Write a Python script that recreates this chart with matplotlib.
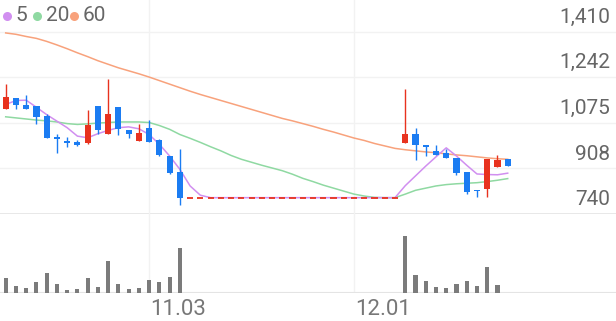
import matplotlib
matplotlib.use("Agg")
import numpy as np
import matplotlib.pyplot as plt

plt.rcParams['font.family'] = ['Roboto', 'DejaVu Sans']

# daily candles (index 18..38 = trading halt, flat price)
opens = [1127, 1165, 1139, 1136, 1099, 1024, 1008, 1006, 1002, 1137,
         1032, 1134, 1048, 1008, 1057, 1010, 953, 894,
         800, 800, 800, 800, 800, 800, 800, 800, 800, 800, 800,
         800, 800, 800, 800, 800, 800, 800, 800, 800, 800,
         999, 1035, 992, 971, 965, 947, 894, 827, 831, 913, 941]
highs = [1219, 1165, 1178, 1136, 1109, 1032, 1024, 1012, 1121, 1137,
         1236, 1134, 1048, 1069, 1087, 1014, 953, 980,
         800, 800, 800, 800, 800, 800, 800, 800, 800, 800, 800,
         800, 800, 800, 800, 800, 800, 800, 800, 800, 800,
         1199, 1057, 992, 992, 977, 947, 894, 827, 943, 955, 941]
lows = [1127, 1127, 1126, 1071, 1018, 965, 986, 989, 998, 1035,
        1032, 1029, 1020, 1008, 1004, 952, 886, 773,
        800, 800, 800, 800, 800, 800, 800, 800, 800, 800, 800,
        800, 800, 800, 800, 800, 800, 800, 800, 800, 800,
        999, 937, 953, 957, 944, 883, 813, 803, 803, 913, 916]
closes = [1170, 1139, 1126, 1096, 1018, 1014, 1002, 993, 1066, 1047,
          1108, 1051, 1032, 1036, 1004, 957, 890, 800,
          800, 800, 800, 800, 800, 800, 800, 800, 800, 800, 800,
          800, 800, 800, 800, 800, 800, 800, 800, 800, 800,
          1035, 992, 986, 957, 947, 889, 819, 823, 943, 937, 916]
volumes = [150, 70, 50, 110, 200, 93, 30, 43, 156, 66,
           323, 93, 43, 50, 136, 110, 163, 450,
           0, 0, 0, 0, 0, 0, 0, 0, 0, 0, 0,
           0, 0, 0, 0, 0, 0, 0, 0, 0, 0,
           576, 183, 126, 63, 53, 93, 126, 76, 263, 80, 0]

ma5 = [1142, 1157, 1158, 1132, 1105, 1081, 1057, 1026, 1020, 1035,
       1047, 1057, 1060, 1053, 1032, 996, 953, 904,
       843, 809, 800, 800, 800, 800, 800, 800, 800, 800, 800,
       800, 800, 800, 800, 800, 800, 800, 800, 800, 800,
       844, 880, 916, 950, 983, 953, 919, 887, 885, 884, 890]
ma20 = [1097, 1093, 1089, 1085, 1082, 1078, 1072, 1069, 1071, 1074,
        1076, 1078, 1078, 1078, 1076, 1065, 1051, 1032,
        1018, 1003, 987, 972, 955, 941, 930, 919, 909, 899, 886,
        871, 859, 846, 835, 824, 813, 806, 801, 800, 800,
        813, 827, 835, 843, 848, 851, 853, 855, 859, 864, 870]
ma60 = [1405, 1400, 1392, 1385, 1374, 1361, 1347, 1332, 1318, 1303,
        1290, 1277, 1266, 1255, 1243, 1230, 1217, 1204,
        1191, 1179, 1168, 1157, 1146, 1135, 1124, 1113, 1102, 1091, 1082,
        1072, 1062, 1051, 1041, 1030, 1019, 1010, 999, 990, 981,
        976, 972, 968, 965, 961, 957, 954, 950, 946, 943, 941]

price_ticks = [1410, 1242.5, 1075, 907.5, 740]
price_labels = ['1,410', '1,242', '1,075', '908', '740']
date_pos = [14, 34]
date_labels = ['11.03', '12.01']

RED = '#e8321e'
BLUE = '#1b7cf2'
C5, C20, C60 = '#d18ff0', '#8fd9a2', '#f8a27c'
GRID = '#f2f2f2'
BASE = '#e4e4e4'

W, H = 616, 321
fig = plt.figure(figsize=(W / 100, H / 100), dpi=100)
ax = fig.add_axes([0, 1 - 214 / H, 1, 214 / H])
axv = fig.add_axes([0, 1 - 293.3 / H, 1, (293.3 - 214) / H])

x = np.arange(len(closes))
xl = (-0.556, 59.57)

# moving averages under the candles
ax.plot(x, ma60, color=C60, lw=1.1, zorder=2)
ax.plot(x, ma20, color=C20, lw=1.1, zorder=2)
ax.plot(x, ma5, color=C5, lw=1.1, zorder=2)

for i in range(len(closes)):
    o, h, l, c = opens[i], highs[i], lows[i], closes[i]
    col = RED if c >= o else BLUE
    if h == l:
        ax.hlines(c, i - 0.3, i + 0.3, color=col, lw=1.3, zorder=3)
        continue
    ax.vlines(i, l, h, color=col, lw=1.0, zorder=3)
    lo, hi = min(o, c), max(o, c)
    ax.bar(i, max(hi - lo, 3), bottom=lo, width=0.6, color=col, lw=0, zorder=4)

ax.set_xlim(*xl)
ax.set_ylim(740, 1526)
for t in price_ticks[:-1]:
    ax.axhline(t, color=GRID, lw=1, zorder=0)
ax.axhline(740, color=BASE, lw=1.2, zorder=0)
for p in date_pos:
    ax.axvline(p, color=GRID, lw=1, zorder=0)
    axv.axvline(p, color=GRID, lw=1, zorder=0)
for t, lab in zip(price_ticks, price_labels):
    ax.annotate(lab, xy=(1, t), xycoords=('axes fraction', 'data'),
                xytext=(-4, 3.5), textcoords='offset points',
                ha='right', va='bottom', fontsize=15, color='#666666')
ax.axis('off')

axv.bar(x, volumes, width=0.4, color='#7b7b7b', lw=0, zorder=3)
axv.set_xlim(*xl)
axv.set_ylim(0, 793)
axv.axhline(0, color=BASE, lw=1.5, zorder=2)
axv.axis('off')

for p, lab in zip(date_pos, date_labels):
    axv.annotate(lab, xy=(p, 0), xycoords=('data', 'axes fraction'),
                 xytext=(0.5, -11.5), textcoords='offset points',
                 ha='left', va='center', fontsize=16, color='#777777')

# legend
for px, col, lab in [(6.7, C5, '5'), (37.3, C20, '20'), (74, C60, '60')]:
    ax.plot([px / W], [1 - 15.7 / H], 'o', ms=6.5, color=col, mec='none',
            transform=fig.transFigure, clip_on=False)
    fig.text((px + 9) / W, 1 - 15.7 / H, lab, ha='left', va='center',
             fontsize=15, color='#666666')

fig.savefig('out.png', dpi=100, facecolor='white')
